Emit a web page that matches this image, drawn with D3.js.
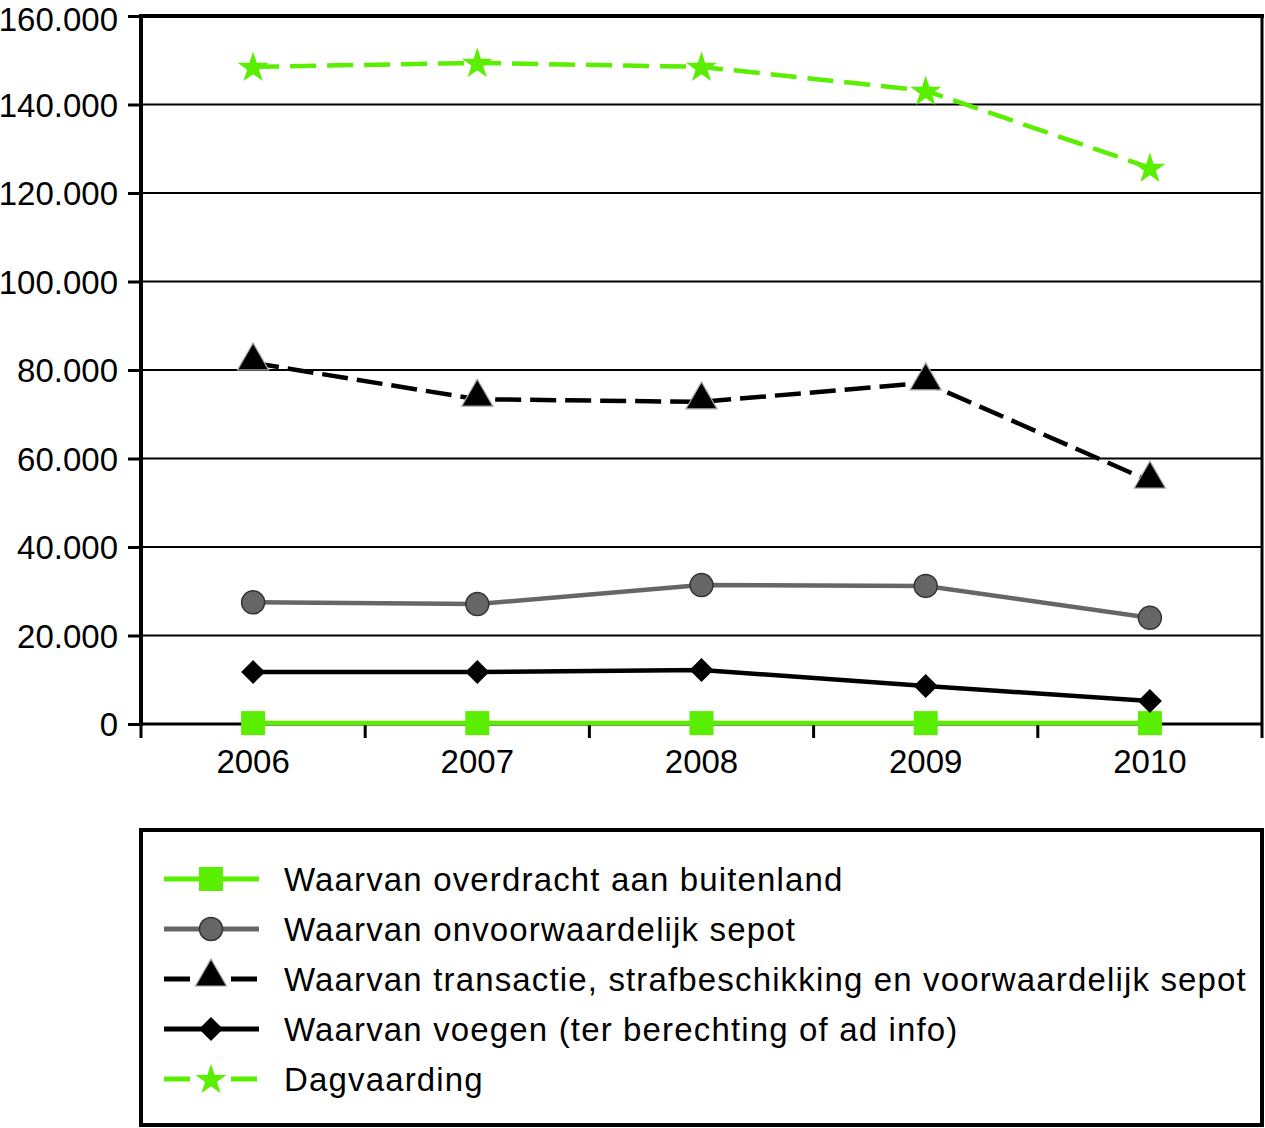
<!DOCTYPE html>
<html><head><meta charset="utf-8">
<script src="https://cdn.jsdelivr.net/npm/d3@7"></script>
<style>body{margin:0;background:#fff}svg text{font-family:"Liberation Sans",Arial,sans-serif;fill:#000}</style>
</head><body>
<svg id="c" width="1265" height="1128"></svg>
<script>
const years = ["2006","2007","2008","2009","2010"];
const overdracht = [200,200,200,200,200];
const sepot = [27500,27100,31400,31200,24000];
const transactie = [81600,73400,72800,77100,54900];
const voegen = [11750,11750,12200,8600,5200];
const dagvaarding = [148500,149400,148500,143100,125700];
const yTicks = [0,20000,40000,60000,80000,100000,120000,140000,160000];
const seriesNames = ["Waarvan overdracht aan buitenland","Waarvan onvoorwaardelijk sepot","Waarvan transactie, strafbeschikking en voorwaardelijk sepot","Waarvan voegen (ter berechting of ad info)","Dagvaarding"];

const GREEN = "#5aee00";
const series = [
  {name:seriesNames[0], values:overdracht, color:GREEN, dash:null, marker:"square"},
  {name:seriesNames[1], values:sepot, color:"#666666", dash:null, marker:"circle"},
  {name:seriesNames[2], values:transactie, color:"#000", dash:"26,9", marker:"triangle"},
  {name:seriesNames[3], values:voegen, color:"#000", dash:null, marker:"diamond"},
  {name:seriesNames[4], values:dagvaarding, color:GREEN, dash:"26,11", marker:"star"}
];

const svg = d3.select("#c");
const L=141, R=1262, T=16, B=724;
const x = d3.scaleBand().domain(years).range([L,R]);
const y = d3.scaleLinear().domain([0,160000]).range([B,T]);
const fmt = v => d3.format(",")(v).replace(/,/g,".");

// gridlines
svg.append("g").selectAll("line").data(yTicks.filter(d=>d>0 && d<160000)).join("line")
  .attr("x1",L).attr("x2",R).attr("y1",d=>y(d)).attr("y2",d=>y(d))
  .attr("stroke","#000").attr("stroke-width",2);
// frame
svg.append("line").attr("x1",L-2).attr("x2",R+2).attr("y1",T).attr("y2",T).attr("stroke","#000").attr("stroke-width",4);
svg.append("line").attr("x1",R).attr("x2",R).attr("y1",T).attr("y2",B).attr("stroke","#000").attr("stroke-width",3);

// y axis
const ya = svg.append("g").attr("transform",`translate(${L},0)`)
  .call(d3.axisLeft(y).tickValues(yTicks).tickFormat(fmt).tickSize(13).tickPadding(10));
ya.select(".domain").attr("stroke","#000").attr("stroke-width",4).attr("d",`M0,${T-2}V${B+2}`);
ya.selectAll(".tick line").attr("stroke","#000").attr("stroke-width",3);
ya.selectAll(".tick text").style("font-size","33px").attr("dy",d=>d===160000?"0.45em":"0.35em");

// x axis
const xa = svg.append("g").attr("transform",`translate(0,${B})`)
  .call(d3.axisBottom(x).tickSize(0).tickPadding(37));
xa.select(".domain").attr("stroke","#000").attr("stroke-width",3).attr("d",`M${L},0H${R}`);
xa.selectAll(".tick text").style("font-size","33px").attr("dy","0.35em");
const bounds = years.map(d=>x(d)).concat([R]);
svg.append("g").selectAll("line").data(bounds).join("line")
  .attr("x1",d=>d).attr("x2",d=>d).attr("y1",B).attr("y2",B+14)
  .attr("stroke","#000").attr("stroke-width",3);

const cx = d => x(d)+x.bandwidth()/2;

function drawMarker(g, type, color){
  if(type==="square"){
    g.append("rect").attr("x",-12).attr("y",-12).attr("width",24).attr("height",24).attr("fill",color);
  } else if(type==="circle"){
    g.append("circle").attr("r",11.5).attr("fill","#666666").attr("stroke","#333").attr("stroke-width",1.5);
  } else if(type==="triangle"){
    g.append("path").attr("d",d3.symbol(d3.symbolTriangle,420)()).attr("transform","translate(0,-2)")
      .attr("fill","#000").attr("stroke","#aaa").attr("stroke-width",1.2);
  } else if(type==="diamond"){
    g.append("path").attr("d","M0,-12L12,0L0,12L-12,0Z").attr("fill","#000");
  } else if(type==="star"){
    g.append("path").attr("d",d3.symbol(d3.symbolStar,300)()).attr("transform","translate(0,1)").attr("fill",color);
  }
}

series.forEach(s=>{
  const line = d3.line().x((v,i)=>cx(years[i])).y(v=>y(v));
  svg.append("path").datum(s.values).attr("d",line).attr("fill","none")
    .attr("stroke",s.color).attr("stroke-width",4.5).attr("stroke-dasharray",s.dash);
  s.values.forEach((v,i)=>{
    const g = svg.append("g").attr("transform",`translate(${cx(years[i])},${y(v)})`);
    drawMarker(g,s.marker,s.color);
  });
});

// legend
svg.append("rect").attr("x",141).attr("y",830).attr("width",1121).attr("height",295)
  .attr("fill","none").attr("stroke","#000").attr("stroke-width",4);
series.forEach((s,i)=>{
  const yy = 879 + i*50;
  const g = svg.append("g");
  if(s.dash){
    g.append("line").attr("x1",164).attr("x2",190).attr("y1",yy).attr("y2",yy).attr("stroke",s.color).attr("stroke-width",5);
    g.append("line").attr("x1",231).attr("x2",257).attr("y1",yy).attr("y2",yy).attr("stroke",s.color).attr("stroke-width",5);
  } else {
    g.append("line").attr("x1",164).attr("x2",259).attr("y1",yy).attr("y2",yy).attr("stroke",s.color).attr("stroke-width",5);
  }
  const m = g.append("g").attr("transform",`translate(211,${yy})`);
  drawMarker(m,s.marker,s.color);
  g.append("text").attr("x",284).attr("y",yy).attr("dy","0.35em").style("font-size","33px").style("letter-spacing","1.15px").text(s.name);
});
</script>
</body></html>
